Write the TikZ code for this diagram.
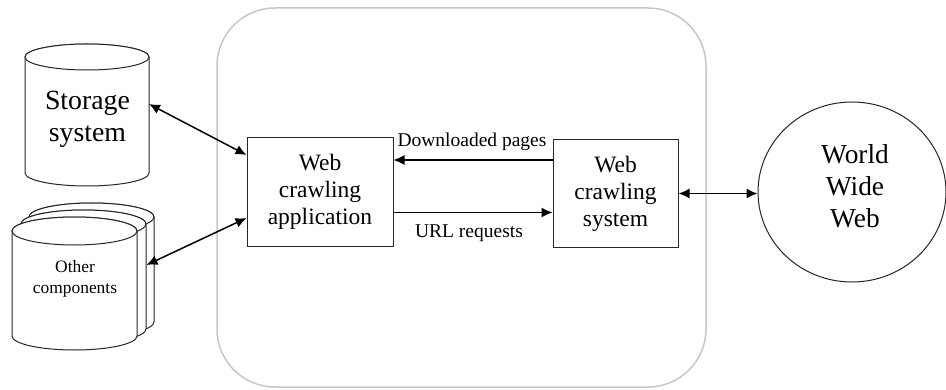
\documentclass[tikz,border=0pt]{standalone}
\usepackage{fontspec}
\setmainfont{Liberation Serif}
\usetikzlibrary{arrows.meta,shapes.geometric}

% vertical drum: centre x, top centre y, bottom centre y, x radius, y radius
\newcommand{\drumshape}[5]{%
  \filldraw[drumline] (#1-#4,#2) -- (#1-#4,#3)
    arc[start angle=180,end angle=360,x radius=#4,y radius=#5]
    -- (#1+#4,#2)
    arc[start angle=0,end angle=180,x radius=#4,y radius=#5] -- cycle;
  \draw[drumline] (#1,#2) ellipse[x radius=#4,y radius=#5];}

\begin{document}
\begin{tikzpicture}[x=1pt,y=1pt,
  drumline/.style={draw=black!85,fill=white,line width=1pt},
  unit/.style={draw=black!85,line width=1pt,align=center,inner sep=0pt,
    font=\fontsize{23.5}{27}\selectfont},
  biarrow/.style={line width=1.5pt,
    {Latex[length=11pt,width=10pt]}-{Latex[length=11pt,width=10pt]}},
  onearrow/.style={line width=1.5pt,-{Latex[length=11pt,width=10pt]}},
  flowlabel/.style={font=\fontsize{19.5}{23}\selectfont,inner sep=0pt}]
\useasboundingbox (0,0) rectangle (946,389);

% rounded frame around the crawler
\node[draw=black!22,line width=1.5pt,rounded corners=58,
  minimum width=489,minimum height=379,inner sep=0pt] (frame) at (461.5,191.5) {};

% storage drum
\drumshape{87}{332}{216}{62}{13}
\node[align=center,inner sep=0pt,font=\fontsize{27.8}{32}\selectfont] (storage) at (87.5,270) {Storage\\system};
\coordinate (storageside) at (149,285);

% stack of other component drums
\drumshape{91.5}{172}{67}{62.5}{14}
\drumshape{83.5}{165}{60}{62.5}{14}
\drumshape{74.5}{158}{53}{62.5}{14}
\node[align=center,inner sep=0pt,font=\fontsize{17.4}{20.5}\selectfont] (other) at (75,110) {Other\\components};
\coordinate (otherside) at (146.5,124);

% crawler boxes
\node[unit,minimum width=146,minimum height=108] (app) at (320,197) {Web\\crawling\\application};
\node[unit,minimum width=125,minimum height=107] (sys) at (615.5,195.5) {Web\\crawling\\system};

% the web
\node[draw=black!85,line width=1pt,ellipse,minimum width=188,minimum height=180,inner sep=0pt] (www) at (852,197) {};
\node[align=center,inner sep=0pt,font=\fontsize{27.4}{32}\selectfont] (wwwtext) at (855,203) {World\\Wide\\Web};

% connectors
\draw[biarrow] (storageside) -- ([yshift=37]app.west);
\draw[biarrow] (otherside) -- ([yshift=-26]app.west);

\coordinate (dlstart) at ([yshift=33.5]sys.west);
\draw[onearrow] (dlstart) -- (dlstart -| app.east);
\coordinate (urlstart) at ([yshift=-20.5]app.east);
\draw[onearrow] (urlstart) -- (urlstart -| sys.west);

\draw[biarrow] (sys.east) -- (sys.east -| www.west);

\node[flowlabel] (dllabel) at (472,247) {Downloaded pages};
\node[flowlabel] (urllabel) at (469,156) {URL requests};
\end{tikzpicture}
\end{document}
